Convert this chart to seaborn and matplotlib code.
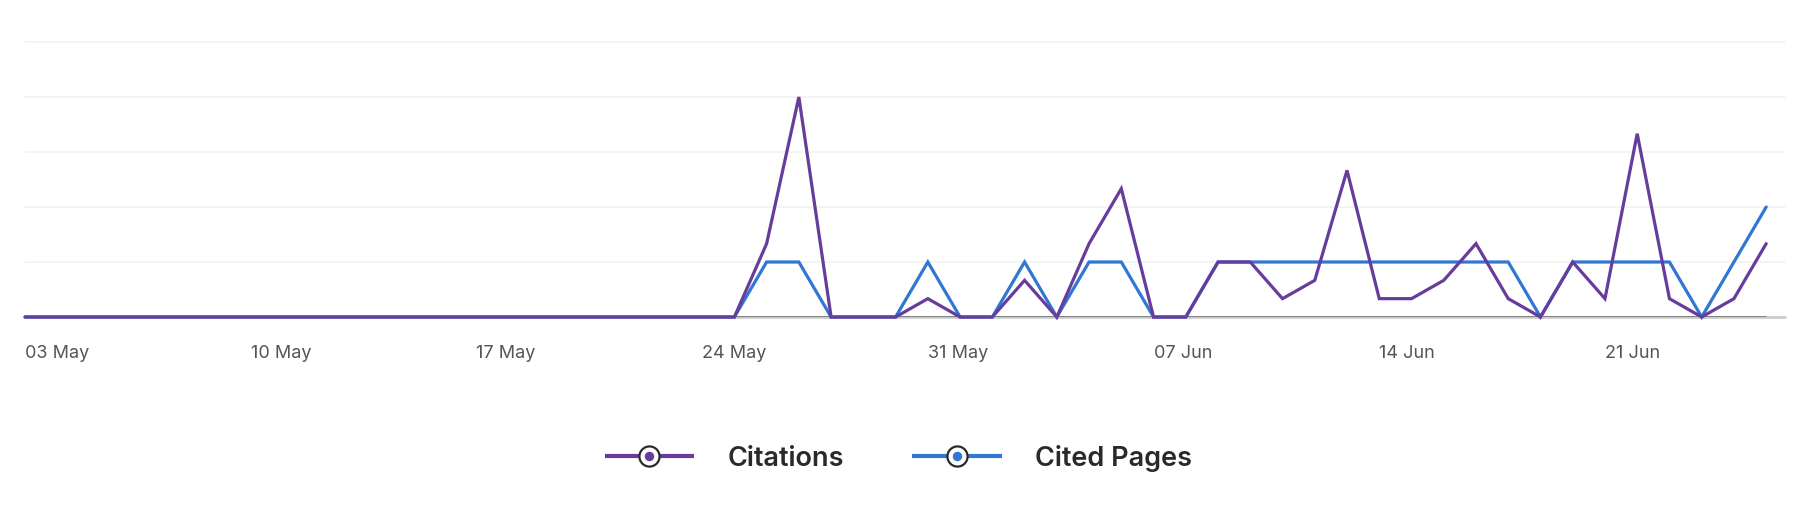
import numpy as np
import pandas as pd
import matplotlib
matplotlib.use("Agg")
import matplotlib.pyplot as plt
import matplotlib.dates as mdates
from matplotlib.lines import Line2D
from matplotlib.legend_handler import HandlerTuple
import seaborn as sns

# ---- data ----
start_date = "2024-05-03"
n_days = 55
citations = [0]*23 + [4, 12, 0, 0, 0, 1, 0, 0, 2, 0, 4, 7, 0, 0, 3, 3, 1, 2, 8, 1, 1, 2, 4, 1,
                      0, 3, 1, 10, 1, 0, 1, 4]
cited_pages = [0]*23 + [3, 3, 0, 0, 0, 3, 0, 0, 3, 0, 3, 3, 0, 0, 3, 3, 3, 3, 3, 3, 3, 3, 3, 3,
                        0, 3, 3, 3, 3, 0, 3, 6]
series_names = ["Citations", "Cited Pages"]
series_colors = ["#663c9c", "#2f77d2"]
y_grid = [3, 6, 9, 12, 15]

dates = pd.date_range(start_date, periods=n_days, freq="D")
df = pd.DataFrame({
    "date": np.concatenate([dates, dates]),
    "value": citations + cited_pages,
    "series": [series_names[0]] * n_days + [series_names[1]] * n_days,
})

sns.set_theme(style="white")
plt.rcParams["font.family"] = ["Inter", "DejaVu Sans"]

fig = plt.figure(figsize=(18.08, 5.16), dpi=100)
ax = fig.add_axes([25/1808, (516-317)/516, 1760/1808, 275/516])

# gridlines and baseline
for g in y_grid:
    ax.axhline(g, color="#f3f3f3", lw=1.3, zorder=0)
ax.axhline(0, color="#cccccc", lw=2.0, zorder=1)
ax.hlines(0, dates[0], dates[-1], color="#777777", lw=2.0, zorder=1)

# draw Cited Pages first then Citations on top
sns.lineplot(data=df, x="date", y="value", hue="series",
             hue_order=series_names[::-1], palette=series_colors[::-1],
             linewidth=2.3, legend=False, ax=ax, zorder=3)
for ln in ax.lines:
    ln.set_solid_joinstyle("miter")
    ln.set_clip_on(False)

ax.set_ylim(0, 15)
ax.set_xlim(dates[0], dates[-1] + pd.Timedelta(hours=int(24*0.62)))
ax.set_yticks([])
ax.set_xlabel("")
ax.set_ylabel("")
for s in ax.spines.values():
    s.set_visible(False)

ax.set_xticks(dates[::7])
ax.xaxis.set_major_formatter(mdates.DateFormatter("%d %b"))
ax.tick_params(axis="x", length=0, pad=20, labelsize=13, labelcolor="#555555")
for lab in ax.get_xticklabels():
    lab.set_ha("left")

# legend
handles = []
for name, col in zip(series_names, series_colors):
    line = Line2D([], [], color=col, lw=3.0, solid_capstyle="butt")
    ring = Line2D([], [], ls="none", marker="o", markersize=14.5,
                  markerfacecolor="white", markeredgecolor="#2a2a2a", markeredgewidth=1.6)
    dot = Line2D([], [], ls="none", marker="o", markersize=5.8,
                 markerfacecolor=col, markeredgecolor=col)
    handles.append((line, ring, dot))
fig.legend(handles, series_names, handler_map={tuple: HandlerTuple(ndivide=1, pad=0)},
           loc="center", bbox_to_anchor=(0.497, 1 - 458/516), ncol=2, frameon=False,
           prop={"family": ["Inter", "DejaVu Sans"], "weight": "semibold", "size": 19.5},
           labelcolor="#2a2a2a", handlelength=3.3, handletextpad=1.25, columnspacing=2.5)

fig.savefig("out.png", dpi=100, facecolor="white")
